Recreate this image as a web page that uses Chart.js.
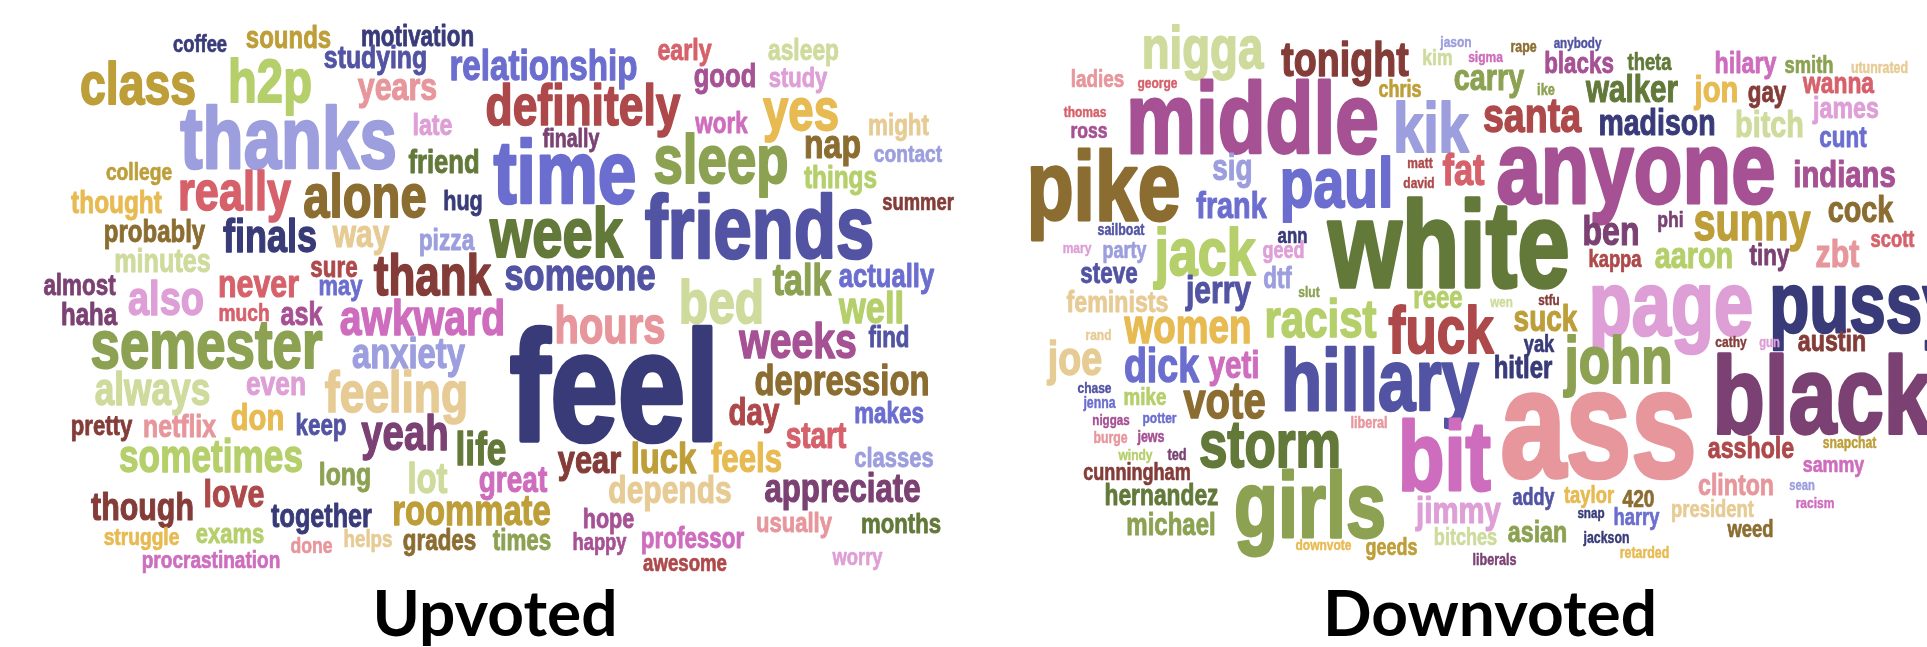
<!DOCTYPE html>
<html>
<head>
<meta charset="utf-8">
<title>Upvoted / Downvoted word clouds</title>
<script src="https://cdn.jsdelivr.net/npm/chart.js@4.4.1/dist/chart.umd.min.js"></script>
<style>
    html, body {
        margin: 0;
        padding: 0;
        background: #ffffff;
    }

    #wrap {
        width: 1927px;
        height: 647px;
    }
</style>
</head>
<body>
<div id="wrap">
    <canvas id="cloudChart" width="1927" height="647"></canvas>
</div>

<script>
// tab20b colour map used by the word clouds
const palette = [
    "#393b79", "#5254a3", "#6b6ecf", "#9c9ede",
    "#637939", "#8ca252", "#b5cf6b", "#cedb9c",
    "#8c6d31", "#bd9e39", "#e7ba52", "#e7cb94",
    "#843c39", "#ad494a", "#d6616b", "#e7969c",
    "#7b4173", "#a55194", "#ce6dbd", "#de9ed6"
];

const panelTitles = ["Upvoted", "Downvoted"];

// ---- Upvoted cloud ----
const upWords = [
    "coffee", "sounds", "motivation", "class", "h2p", "studying", "relationship", "thanks",
    "years", "late", "friend", "college", "really", "alone", "thought", "hug",
    "probably", "finals", "way", "pizza", "minutes", "sure", "thank", "almost",
    "also", "never", "may", "early", "asleep", "good", "study", "definitely",
    "yes", "work", "might", "finally", "time", "sleep", "nap", "contact",
    "things", "summer", "week", "friends", "someone", "talk", "actually", "haha",
    "much", "ask", "awkward", "semester", "anxiety", "always", "even", "feeling",
    "pretty", "netflix", "don", "keep", "yeah", "sometimes", "long", "lot",
    "life", "love", "though", "together", "roommate", "struggle", "exams", "done",
    "helps", "grades", "procrastination", "bed", "well", "hours", "feel", "weeks",
    "find", "depression", "day", "makes", "start", "classes", "year", "luck",
    "feels", "great", "depends", "appreciate", "hope", "times", "happy", "professor",
    "usually", "months", "awesome", "worry"
];
const upX = [
    200, 288.5, 417.5, 138, 270, 375.5, 543.5, 288.5,
    397.5, 432.5, 444, 139, 234.5, 365, 116.5, 463,
    154.5, 270, 361, 446.5, 162.5, 334, 432.5, 79.5,
    166, 258.5, 340.5, 684.5, 803.5, 725, 798, 583,
    801, 721.5, 898.5, 571, 565, 721, 832.5, 908,
    840.5, 918, 556.5, 759.5, 580, 802, 886.5, 89,
    244, 301.5, 422.5, 206.5, 408.5, 152.5, 276, 396.5,
    101.5, 179.5, 257.5, 321, 405, 211, 345, 427.5,
    481, 234, 142.5, 321.5, 471.5, 141.5, 230, 311.5,
    368, 439.5, 211, 721.5, 871.5, 610, 614.5, 798,
    889, 842, 754, 889, 816, 894, 589.5, 663.5,
    746.5, 513, 670, 842.5, 608.5, 522, 599.5, 692.5,
    794, 901, 685, 857.5
];
const upY = [
    52, 48, 46, 104, 102, 68, 80, 168,
    100, 135, 173, 180, 210, 217, 213, 210,
    242, 252, 247, 250, 272, 277, 295, 295,
    315, 297, 295, 60, 60, 87, 87, 125,
    130, 133, 135, 147, 203, 183, 158, 162,
    188, 210, 257, 258, 290, 295, 287, 325,
    321, 325, 335, 368, 368, 405, 395, 412,
    435, 437, 430, 435, 450, 472, 485, 493,
    465, 507, 520, 527, 525, 545, 543, 553,
    547, 550, 568, 323, 323, 343, 440, 358,
    347, 395, 425, 423, 448, 467, 473, 473,
    472, 492, 503, 502, 528, 550, 550, 548,
    532, 533, 571, 565
];
const upSize = [
    23, 30, 28, 58, 59, 31, 41.5, 84,
    38, 29, 32, 24, 54, 59, 30.5, 27,
    30, 45, 37.5, 28.5, 31.5, 28, 55, 28,
    47.5, 38, 27.5, 29, 28.5, 32, 27.5, 55.5,
    57, 28, 28, 24.5, 87, 66, 40, 24,
    30.5, 23, 68, 86, 43, 42.5, 32, 30,
    24, 31.5, 49, 66, 41, 44, 33, 55.6,
    27.7, 31, 36.6, 28, 48, 44, 31, 41,
    44, 38, 38, 31.5, 41, 24, 27.5, 22,
    23.5, 28, 23.8, 60, 43, 50, 152, 49,
    28, 41, 37, 28, 35, 27.5, 38.5, 41,
    39, 35, 37.5, 39, 27, 28, 23, 28,
    27.6, 27.7, 23.3, 23
];
const upColor = [
    0, 9, 0, 9, 6, 1, 2, 3,
    15, 19, 4, 9, 14, 8, 10, 0,
    8, 0, 11, 3, 7, 13, 12, 16,
    19, 14, 2, 14, 7, 17, 19, 13,
    10, 18, 11, 16, 2, 5, 8, 3,
    6, 12, 4, 1, 1, 5, 2, 16,
    14, 17, 18, 5, 3, 7, 19, 11,
    12, 15, 10, 1, 16, 6, 5, 7,
    4, 13, 12, 0, 9, 10, 6, 15,
    11, 8, 18, 7, 6, 15, 0, 17,
    1, 8, 13, 2, 14, 3, 12, 9,
    10, 18, 11, 16, 17, 5, 17, 18,
    15, 4, 13, 19
];

// ---- Downvoted cloud ----
const downWords = [
    "nigga", "tonight", "ladies", "george", "middle", "thomas", "ross", "pike",
    "sig", "paul", "frank", "sailboat", "ann", "mary", "party", "jack",
    "geed", "steve", "dtf", "slut", "feminists", "jerry", "racist", "women",
    "jason", "rape", "anybody", "kim", "sigma", "blacks", "theta", "carry",
    "chris", "ike", "walker", "kik", "santa", "madison", "anyone", "matt",
    "fat", "david", "white", "ben", "kappa", "page", "reee", "wen",
    "stfu", "suck", "fuck", "hilary", "smith", "utunrated", "jon", "gay",
    "wanna", "james", "bitch", "cunt", "indians", "cock", "phi", "sunny",
    "scott", "aaron", "tiny", "zbt", "pussy", "rand", "joe", "dick",
    "yeti", "hillary", "chase", "jenna", "mike", "vote", "niggas", "potter",
    "burge", "jews", "windy", "ted", "storm", "cunningham", "hernandez", "michael",
    "girls", "downvote", "yak", "john", "hitler", "liberal", "bit", "ass",
    "addy", "taylor", "420", "jimmy", "snap", "harry", "bitches", "asian",
    "jackson", "geeds", "liberals", "retarded", "cathy", "gun", "austin", "black",
    "asshole", "snapchat", "sammy", "clinton", "sean", "racism", "president", "weed"
];
const downX = [
    1202.5, 1345, 1097.5, 1157.5, 1252.5, 1085, 1089, 1103.5,
    1232.5, 1336.5, 1231.5, 1121, 1292.5, 1077, 1124.5, 1205,
    1283.5, 1109, 1277.5, 1309, 1117.5, 1218.5, 1320.5, 1188,
    1456, 1523.5, 1577.5, 1437.5, 1485.5, 1579, 1649.5, 1489,
    1400, 1546, 1632, 1431, 1532, 1657, 1636, 1420,
    1463.5, 1419, 1449, 1611, 1615, 1671, 1438, 1501.5,
    1549, 1545.5, 1441, 1745.5, 1809, 1879.5, 1716.5, 1767,
    1838.5, 1846, 1769.5, 1843, 1844.5, 1860.5, 1670.5, 1752,
    1892.5, 1694, 1769.5, 1837.5, 1864, 1098.5, 1075, 1161.5,
    1234, 1380, 1094.5, 1099.5, 1145, 1224.5, 1111, 1159.5,
    1110.5, 1151, 1135.5, 1177, 1270, 1137, 1161.5, 1171,
    1310, 1323.5, 1539, 1618.5, 1523, 1369, 1444.5, 1598.5,
    1533.5, 1589, 1638.5, 1458.5, 1591, 1636.5, 1465.5, 1537.5,
    1606.5, 1391.5, 1494.5, 1644.5, 1731, 1769.5, 1832, 1822,
    1751, 1849.5, 1833.5, 1736, 1802, 1815, 1712.5, 1750.5
];
const downY = [
    68, 76, 87, 88, 153, 117, 138, 220,
    180, 207, 218, 235, 243, 253, 258, 275,
    258, 283, 288, 297, 312, 303, 337, 343,
    47, 52, 48, 65, 62, 73, 70, 90,
    97, 95, 102, 152, 132, 135, 203, 168,
    185, 188, 287, 245, 267, 335, 308, 307,
    305, 331, 353, 73, 73, 73, 102, 102,
    93, 118, 137, 147, 187, 222, 227, 240,
    247, 268, 265, 267, 332, 340, 375, 382,
    378, 410, 393, 408, 405, 418, 425, 423,
    443, 442, 460, 460, 467, 480, 505, 535,
    537, 550, 352, 383, 378, 428, 490, 477,
    505, 503, 507, 523, 518, 525, 545, 542,
    543, 555, 565, 558, 347, 347, 351, 433,
    458, 448, 472, 495, 490, 508, 517, 537
];
const downSize = [
    57, 47, 23.6, 15, 98, 15, 22, 96,
    35, 69, 36, 15.5, 21, 15, 22.5, 65,
    22.5, 28, 28, 15, 29, 37.5, 52.5, 46,
    15, 15.5, 14.5, 22, 15, 28, 23, 36,
    22.5, 16, 37, 68, 47, 35.6, 99.6, 15,
    43, 15, 118, 40, 23, 88, 30, 14.5,
    14.6, 35, 64, 29, 23, 15.5, 36.6, 28,
    28.6, 29, 36, 28, 36.6, 36, 22, 49.7,
    23, 36, 28, 38, 82, 15, 47, 47,
    37, 84, 15, 15.4, 23.5, 50, 14.5, 15,
    15.4, 15.7, 15, 16, 64, 22.6, 28.5, 30,
    90, 15, 23, 64, 30, 15.8, 95, 147,
    22.5, 23, 24, 36.7, 14.6, 23, 22.6, 29,
    15.4, 22.4, 15.7, 15.5, 15, 14, 29, 107,
    29, 15.3, 22.3, 29, 14, 15, 23, 23
];
const downColor = [
    7, 12, 15, 14, 17, 14, 17, 8,
    3, 2, 2, 1, 0, 19, 3, 6,
    19, 1, 3, 5, 11, 1, 6, 10,
    3, 8, 1, 7, 18, 17, 4, 5,
    9, 5, 4, 3, 13, 0, 17, 13,
    14, 13, 4, 16, 13, 19, 6, 7,
    12, 9, 13, 18, 5, 11, 10, 12,
    14, 19, 7, 2, 17, 8, 16, 9,
    14, 6, 16, 15, 0, 11, 11, 2,
    18, 1, 1, 2, 6, 8, 17, 2,
    15, 17, 6, 16, 4, 12, 4, 5,
    5, 10, 0, 5, 0, 15, 18, 15,
    1, 10, 8, 19, 0, 2, 7, 5,
    0, 9, 16, 10, 12, 19, 12, 16,
    13, 9, 18, 15, 3, 18, 11, 8
];

function toPoints(xs, ys) {
    return xs.map((x, i) => ({ x: x, y: ys[i] }));
}

const wordCloudPlugin = {
    id: "wordCloud",

    afterDatasetsDraw(chart) {

        const ctx = chart.ctx;

        chart.data.datasets.forEach((ds, d) => {

            const meta = chart.getDatasetMeta(d);

            meta.data.forEach((pt, i) => {

                const size = ds.sizes[i];

                ctx.save();
                ctx.translate(pt.x, pt.y);
                // narrow the bold sans to get the condensed word-cloud look
                ctx.scale(0.8, 1.03);
                ctx.font = "bold " + size + "px 'Liberation Sans', Arial, sans-serif";
                ctx.textAlign = "center";
                ctx.textBaseline = "alphabetic";
                ctx.fillStyle = palette[ds.colors[i]];
                ctx.strokeStyle = palette[ds.colors[i]];
                ctx.lineJoin = "round";
                ctx.lineWidth = size * 0.03;
                ctx.strokeText(ds.words[i], 0, 0);
                ctx.fillText(ds.words[i], 0, 0);
                ctx.restore();
            });
        });

        // panel captions under each cloud
        const xs = chart.scales.x;
        const ys = chart.scales.y;

        ctx.save();
        ctx.font = "bold 64px Lato, 'Open Sans', sans-serif";
        ctx.textAlign = "center";
        ctx.textBaseline = "alphabetic";
        ctx.fillStyle = "#000000";
        ctx.fillText(panelTitles[0], xs.getPixelForValue(495), ys.getPixelForValue(636));
        ctx.fillText(panelTitles[1], xs.getPixelForValue(1490), ys.getPixelForValue(636));
        ctx.restore();
    }
};

const cloudChart = new Chart(
    document.getElementById("cloudChart"),
    {
        type: "scatter",

        data: {
            datasets: [
                {
                    label: panelTitles[0],
                    data: toPoints(upX, upY),
                    words: upWords,
                    sizes: upSize,
                    colors: upColor,
                    pointRadius: 0,
                    pointHoverRadius: 0
                },
                {
                    label: panelTitles[1],
                    data: toPoints(downX, downY),
                    words: downWords,
                    sizes: downSize,
                    colors: downColor,
                    pointRadius: 0,
                    pointHoverRadius: 0
                }
            ]
        },

        options: {
            responsive: false,
            animation: false,
            devicePixelRatio: 1,
            layout: { padding: 0 },
            plugins: {
                legend: { display: false },
                tooltip: { enabled: false },
                title: { display: false }
            },
            scales: {
                x: { type: "linear", min: 0, max: 1927, display: false },
                y: { type: "linear", min: 0, max: 647, reverse: true, display: false }
            }
        },

        plugins: [wordCloudPlugin]
    }
);
</script>
</body>
</html>
